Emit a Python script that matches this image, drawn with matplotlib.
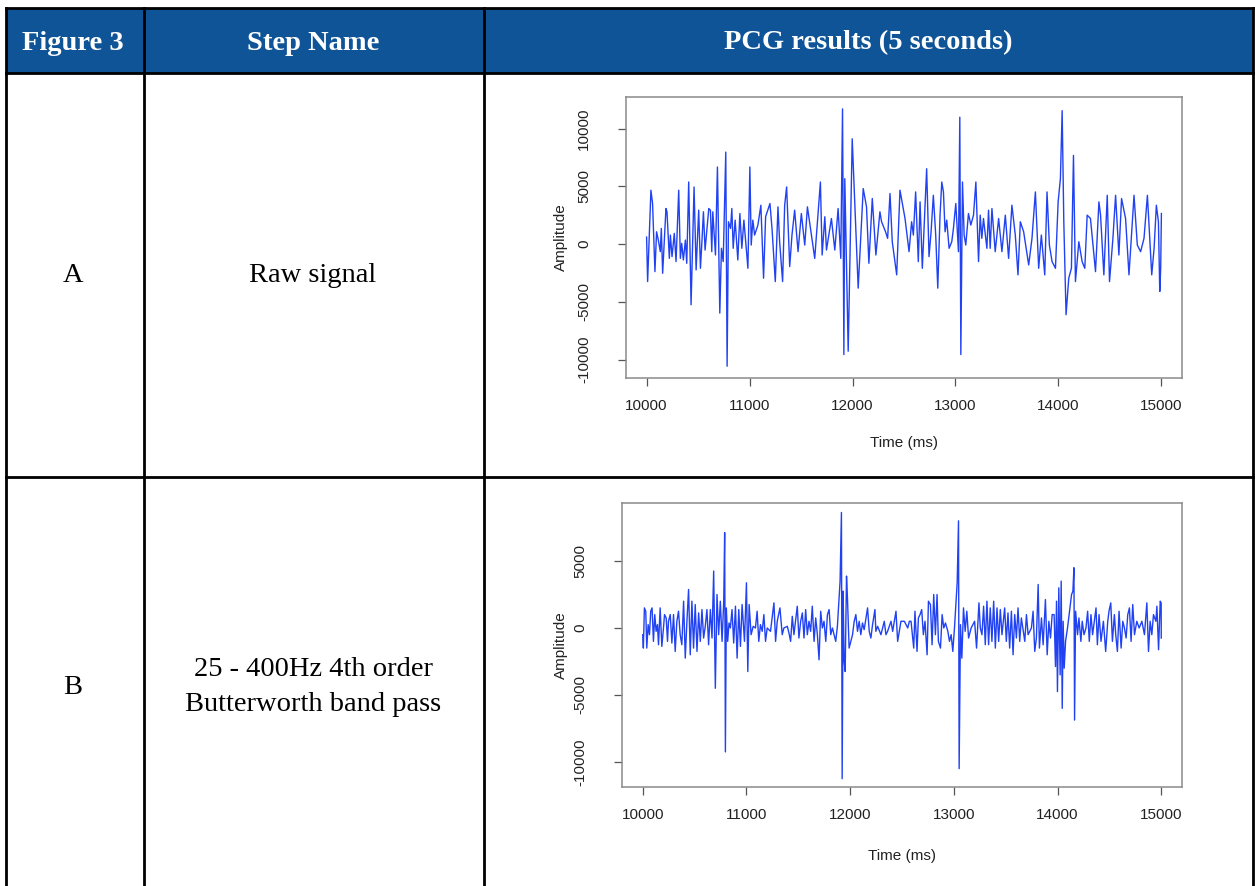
import numpy as np
import matplotlib.pyplot as plt

plt.rcParams['font.family'] = 'Liberation Sans'

# table text
header_labels = ['Figure 3', 'Step Name', 'PCG results (5 seconds)']
row_ids = ['A', 'B']
step_names = ['Raw signal', '25 - 400Hz 4th order\nButterworth band pass']

# raw signal (A): time in ms, amplitude
raw_time = [10000, 10010, 10042, 10058, 10081, 10097, 10114, 10133, 10143, 10156,
            10188, 10198, 10221, 10231, 10247, 10269, 10286, 10312, 10328, 10341,
            10357, 10377, 10390, 10409, 10432, 10461, 10481, 10506, 10523, 10539,
            10552, 10568, 10604, 10620, 10633, 10643, 10669, 10688, 10711, 10727,
            10744, 10769, 10782, 10795, 10815, 10828, 10841, 10860, 10886, 10906,
            10925, 10945, 10984, 11003, 11016, 11032, 11049, 11081, 11110, 11136,
            11156, 11198, 11218, 11250, 11276, 11292, 11321, 11341, 11360, 11390,
            11412, 11438, 11471, 11503, 11536, 11562, 11633, 11659, 11688, 11705,
            11731, 11747, 11795, 11828, 11860, 11886, 11903, 11916, 11925, 11958,
            11997, 12055, 12104, 12136, 12159, 12192, 12227, 12266, 12282, 12321,
            12341, 12364, 12386, 12429, 12461, 12510, 12549, 12574, 12591, 12613,
            12639, 12656, 12678, 12720, 12743, 12763, 12785, 12808, 12828, 12850,
            12867, 12883, 12899, 12915, 12938, 12964, 12980, 13003, 13029, 13042,
            13052, 13068, 13084, 13100, 13126, 13149, 13175, 13198, 13224, 13240,
            13256, 13272, 13305, 13321, 13337, 13354, 13386, 13419, 13451, 13484,
            13516, 13548, 13581, 13607, 13630, 13662, 13711, 13743, 13776, 13808,
            13834, 13867, 13889, 13912, 13938, 13971, 13997, 14019, 14036, 14052,
            14074, 14100, 14126, 14146, 14165, 14198, 14230, 14256, 14279, 14311,
            14344, 14360, 14393, 14409, 14441, 14474, 14496, 14529, 14555, 14587,
            14613, 14652, 14685, 14734, 14766, 14798, 14831, 14864, 14906, 14929,
            14951, 14971, 14984, 14993, 15000]
raw_amp = [600, -3250, 4660, 3510, -2390, 1060, 345, -660, 1350, -2530,
           3075, 2790, -1240, 775, -1090, 920, -1520, 4660, -1240, 60,
           -1380, 345, -1670, 5370, -5260, 4940, -2240, 2930, -2100, 490,
           2790, -520, 3075, 2930, -660, 2790, -950, 6670, -5980, -370,
           -1520, 7960, -10580, 1930, 1350, 3075, -370, 2070, -1380, 2640,
           -370, 2070, -2100, 6670, -90, 2070, 775, 1640, 3360, -2960,
           2360, 3510, 1350, -3250, 3220, 200, -3250, 3360, 4940, -1950,
           775, 2930, -660, 2640, -90, 3220, -1240, 1930, 5370, -950,
           2360, -520, 2210, -520, 3075, -1240, 11700, -9570, 5660, -9280,
           9110, -3820, 4800, 3220, -1670, 3940, -950, 2790, 1930, 1060,
           490, 4370, 200, -2670, 4660, 2210, -660, 1930, 775, 4510,
           -1520, 3650, -2100, 6520, -1090, 1060, 4220, 775, -3820, 2500,
           5370, 4510, 1060, 2070, -370, 200, 1350, 3510, -660, 10980,
           -9570, 5370, 775, -90, 2640, 1640, 2500, 5370, -1520, 2500,
           490, 2210, -370, 2930, -370, 3075, -660, 2210, -660, 2500,
           -1240, 3360, 775, -2670, 1930, 1060, -1810, 490, 4510, -2100,
           775, -2670, 4510, -90, -1520, -2100, 3650, 5660, 11550, 1930,
           -6120, -2960, -2100, 7670, -3250, 200, -1520, -2100, 2500, 2210,
           -950, -2390, 3650, 2500, -2670, 4220, -3250, 490, 4220, -950,
           3940, 2210, -2670, 4220, -90, -660, 490, 4220, -2670, -370,
           3360, 1930, -4110, -2100, 2640]

# band pass filtered signal (B)
bp_time = [10000, 10006, 10016, 10029, 10039, 10052, 10065, 10077, 10090, 10103,
           10116, 10129, 10142, 10152, 10168, 10184, 10200, 10210, 10226, 10239,
           10248, 10265, 10281, 10297, 10313, 10329, 10345, 10361, 10377, 10394,
           10410, 10426, 10442, 10458, 10474, 10490, 10506, 10523, 10539, 10555,
           10571, 10587, 10603, 10619, 10635, 10652, 10668, 10684, 10700, 10716,
           10732, 10748, 10765, 10781, 10790, 10797, 10806, 10819, 10832, 10845,
           10861, 10877, 10894, 10910, 10926, 10942, 10958, 10981, 11000, 11013,
           11026, 11045, 11065, 11087, 11103, 11119, 11135, 11152, 11168, 11184,
           11200, 11232, 11265, 11281, 11297, 11323, 11345, 11361, 11394, 11410,
           11426, 11442, 11458, 11490, 11506, 11523, 11539, 11555, 11571, 11587,
           11603, 11619, 11635, 11652, 11668, 11684, 11700, 11716, 11732, 11748,
           11765, 11781, 11797, 11813, 11829, 11861, 11877, 11894, 11903, 11916,
           11923, 11932, 11942, 11952, 11965, 11974, 11990, 12006, 12023, 12039,
           12055, 12071, 12087, 12103, 12119, 12135, 12168, 12184, 12200, 12216,
           12239, 12248, 12265, 12297, 12329, 12345, 12361, 12394, 12410, 12442,
           12458, 12474, 12490, 12523, 12555, 12571, 12587, 12613, 12625, 12645,
           12658, 12674, 12690, 12706, 12722, 12742, 12755, 12774, 12790, 12806,
           12822, 12838, 12851, 12871, 12887, 12903, 12919, 12942, 12958, 12974,
           12990, 13006, 13022, 13032, 13045, 13051, 13064, 13077, 13093, 13109,
           13125, 13142, 13167, 13200, 13219, 13242, 13255, 13271, 13287, 13303,
           13319, 13335, 13351, 13367, 13384, 13400, 13416, 13432, 13448, 13464,
           13490, 13506, 13522, 13538, 13555, 13571, 13587, 13603, 13619, 13635,
           13651, 13684, 13700, 13716, 13748, 13764, 13780, 13796, 13813, 13825,
           13845, 13861, 13883, 13900, 13916, 13932, 13948, 13967, 13980, 13990,
           13999, 14012, 14025, 14035, 14045, 14054, 14064, 14077, 14096, 14135,
           14148, 14158, 14164, 14174, 14193, 14206, 14225, 14238, 14255, 14274,
           14290, 14306, 14322, 14338, 14355, 14371, 14384, 14400, 14419, 14442,
           14464, 14484, 14496, 14513, 14529, 14548, 14561, 14577, 14593, 14613,
           14629, 14645, 14661, 14677, 14693, 14709, 14725, 14742, 14764, 14787,
           14813, 14838, 14861, 14877, 14893, 14909, 14925, 14948, 14958, 14974,
           14990, 14999, 15000]
bp_amp = [-500, -1500, 1500, 1250, -1500, 250, -500, 1250, 1500, -1000,
          1000, -250, 250, -1250, 1500, -1375, 0, 1000, 750, -1000,
          500, 1000, -1125, 1000, -1750, 500, 1250, -500, -1250, 2000,
          -2250, 500, 2875, -2000, 2000, -1500, 1750, -1750, 1125, -1000,
          1375, -750, 125, 1375, -1250, 1375, -750, 4250, -4500, 2500,
          -500, 2000, -1000, 2000, 7125, -9250, 1500, -1000, 375, 0,
          1375, -1125, 1625, -2250, 1375, -1375, 1750, -1000, 3375, -3250,
          1750, -500, 125, 0, 1250, -1000, 250, -250, 1000, -1000,
          0, -250, 1875, -1000, 500, 1500, -500, 0, 125, -375,
          -1000, 875, -500, 1625, -750, 500, 1125, -750, 1375, -500,
          500, -250, 1625, -1000, 750, -500, -2375, 1250, 0, 500,
          -1000, 1000, 1375, -500, 0, -1000, 125, 2250, 3500, 8625,
          -11250, 2750, -2500, -3250, 3875, 2250, -1500, -1000, -500, 500,
          1000, -250, 500, -500, 375, -125, 1500, -250, -750, 250,
          1375, -250, 125, -500, 500, -500, -250, 500, -250, 1250,
          -1000, -250, 500, 500, 0, 500, 500, -1500, 1250, -1750,
          750, 1000, 1375, -500, 500, -2000, 2000, 1750, -1250, 2500,
          -500, 2500, -1000, -1500, 1000, 0, 375, -250, -1000, -500,
          -1750, 0, 2000, 3375, 8000, -10500, 250, -2250, 1500, -250,
          1250, -750, 0, 500, -1500, 1875, 0, -500, 1625, -1250,
          2000, -1250, 1500, -1000, 2000, -1500, 1500, -1000, 1375, -500,
          1500, -1000, 1125, -1500, 1250, -2000, 1000, -750, 1500, -1000,
          750, -1000, 1000, -500, 0, 1250, -1750, -750, 3250, -1500,
          750, -1250, 2125, -2000, 500, -750, 1000, 1000, -2875, 2000,
          -4750, 3000, -3500, 3500, -6000, 500, -3000, -1000, 0, 2500,
          2750, 4500, -6875, 1250, -500, 750, -1000, 500, -500, 0,
          1250, -1000, 1000, -500, 500, 1500, -1250, 1000, -1000, 500,
          -1750, 500, 1250, 1875, -1000, 1000, -500, -1750, 1250, -1500,
          500, 0, -750, 1000, 1500, -1000, 1750, -500, 500, 0,
          500, -500, 1875, -1750, 500, -500, 1000, 500, 1625, -1625,
          2000, 1875, -750]

x_ticks = [10000, 11000, 12000, 13000, 14000, 15000]
raw_yticks = [-10000, -5000, 0, 5000, 10000]
bp_yticks = [-10000, -5000, 0, 5000]

W, H = 1255, 886
fig = plt.figure(figsize=(W / 100, H / 100), dpi=100)


def fx(px):
    return px / W


def fy(py):
    return 1 - py / H


# table frame
bg = fig.add_axes([0, 0, 1, 1])
bg.set_xlim(0, W)
bg.set_ylim(H, 0)
bg.axis('off')
bg.add_patch(plt.Rectangle((6, 8), 1247, 65, facecolor='#0F5496', edgecolor='none'))
lw = 2.0
bg.plot([6, 1253], [8, 8], color='black', lw=lw)
bg.plot([6, 1253], [73, 73], color='black', lw=lw)
bg.plot([6, 1253], [477, 477], color='black', lw=lw)
for xv in [6, 144, 484, 1253]:
    bg.plot([xv, xv], [8, H], color='black', lw=lw)

serif = 'Liberation Serif'
col_centers = [73, 313, 868]
for cx, lab in zip(col_centers, header_labels):
    bg.text(cx, 43, lab, color='white', fontsize=20.5, fontweight='bold',
            family=serif, ha='center', va='center')
for ry, rid, name in zip([276, 687], row_ids, step_names):
    bg.text(73, ry, rid, fontsize=20.5, family=serif, ha='center', va='center')
    bg.text(313, ry, name, fontsize=20.5, family=serif, ha='center', va='center',
            linespacing=1.55)


def signal_panel(box, t, amp, yticks, ylim, xlab_y, ylab_x):
    ax = fig.add_axes(box)
    ax.plot(t, amp, color='#2142F2', lw=1.0)
    ax.set_xlim(9800, 15200)
    ax.set_ylim(*ylim)
    ax.set_xticks(x_ticks)
    ax.set_yticks(yticks)
    ax.set_yticklabels([str(v) for v in yticks], rotation=90, va='center')
    ax.tick_params(direction='out', length=6, width=0.9, color='#555555',
                   labelsize=11, labelcolor='#222222')
    ax.tick_params(axis='x', pad=9)
    ax.tick_params(axis='y', pad=19)
    for s in ax.spines.values():
        s.set_color('#8a8a8a')
        s.set_linewidth(1.1)
    ax.set_xlabel('Time (ms)', fontsize=11, color='#222222', va='center')
    ax.set_ylabel('Amplitude', fontsize=11, color='#222222', va='center')
    ax.xaxis.set_label_coords(0.5, xlab_y)
    ax.yaxis.set_label_coords(ylab_x, 0.5)
    return ax


signal_panel([fx(626), fy(378), fx(1182) - fx(626), fy(97) - fy(378)],
             raw_time, raw_amp, raw_yticks, (-11600, 12730), -0.231, -0.117)
signal_panel([fx(622), fy(787), fx(1182) - fx(622), fy(503) - fy(787)],
             bp_time, bp_amp, bp_yticks, (-11870, 9330), -0.243, -0.109)

fig.savefig('out.png', dpi=100)
